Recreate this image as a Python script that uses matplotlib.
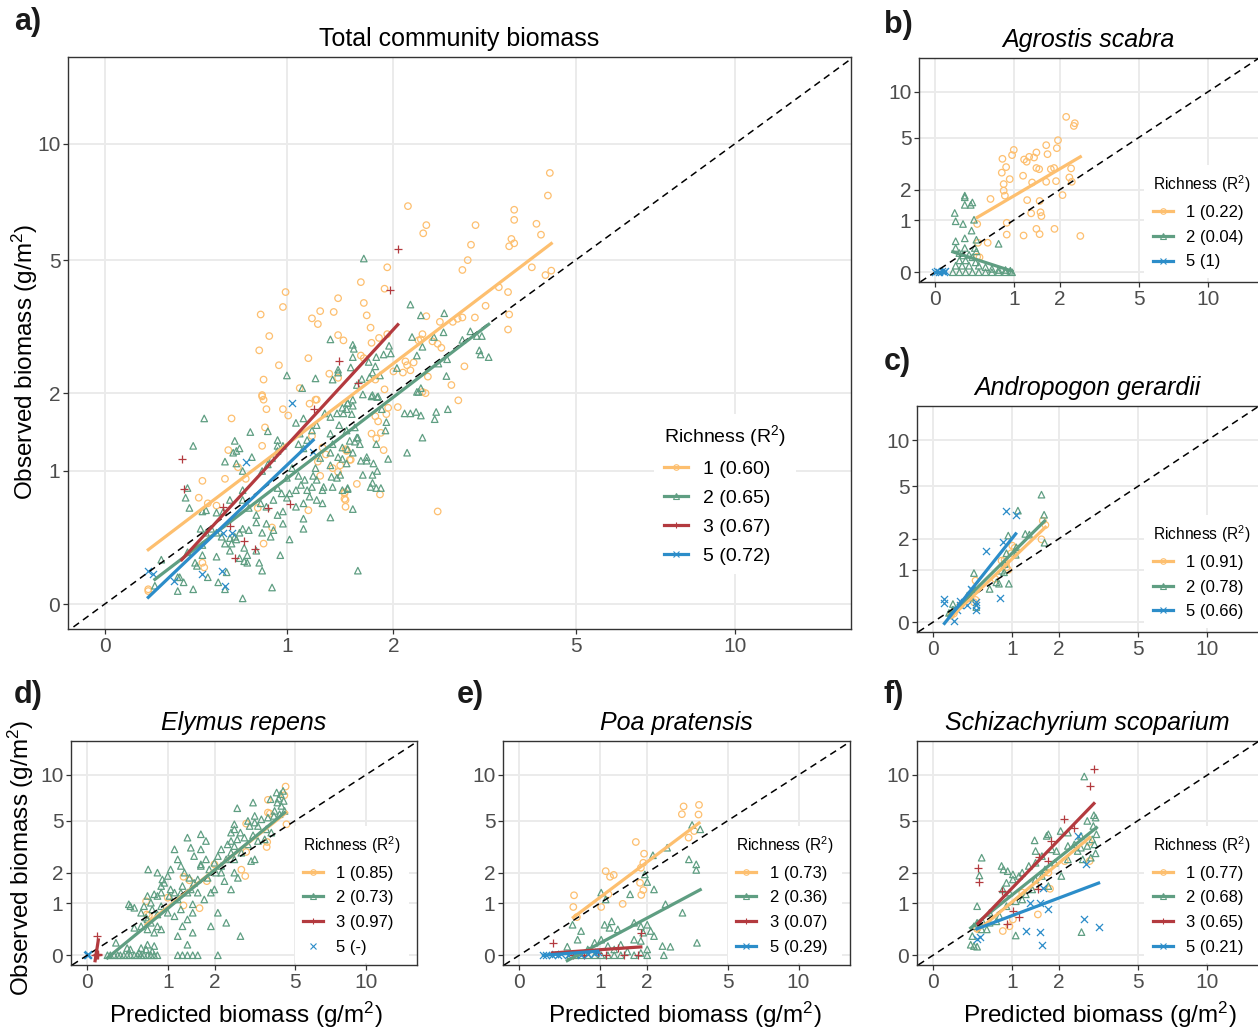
import numpy as np
import matplotlib.pyplot as plt
from matplotlib.lines import Line2D
from matplotlib.ticker import NullLocator

plt.rcParams['font.family'] = ['Liberation Sans', 'DejaVu Sans']
plt.rcParams['mathtext.fontset'] = 'custom'
plt.rcParams['mathtext.rm'] = 'Liberation Sans'
plt.rcParams['mathtext.it'] = 'Liberation Sans:italic'
plt.rcParams['mathtext.default'] = 'regular'

# Richness levels: colour and symbol
colors = {1: '#FDBF6F', 2: '#5F9E82', 3: '#B33A3F', 5: '#2C8DC9'}
markers = {1: 'o', 2: '^', 3: '+', 5: 'x'}

ticks = [0, 1, 2, 5, 10]
tick_labels = ['0', '1', '2', '5', '10']

# ---- a) Total community biomass  (predicted, observed) in g/m2 ----
total_r1 = [(4.44, 8.45), (4.40, 7.40), (2.17, 6.95), (2.40, 6.20), (2.36, 5.90), (3.10, 6.20), (3.75, 6.80),
            (3.75, 6.40), (4.17, 6.25), (4.26, 5.85), (3.70, 5.70), (3.75, 5.55), (3.66, 5.45), (3.03, 5.50),
            (2.98, 5.00), (2.90, 4.70), (4.08, 4.78), (4.35, 4.55), (4.47, 4.68), (1.93, 4.78), (1.65, 4.35),
            (1.90, 4.17), (0.99, 4.08), (0.97, 3.70), (1.43, 3.92), (1.68, 3.80), (1.39, 3.58), (1.27, 3.60),
            (1.20, 3.43), (1.25, 3.30), (1.71, 3.50), (0.81, 3.52), (0.87, 3.04), (0.80, 2.75), (0.94, 2.47),
            (0.83, 2.22), (0.82, 1.97), (1.10, 2.08), (1.17, 2.60), (1.75, 3.22), (1.76, 2.90), (1.84, 3.00),
            (1.43, 3.06), (1.48, 2.95), (1.93, 3.08), (1.65, 2.65), (1.68, 2.60), (1.35, 2.32), (1.43, 2.25),
            (1.24, 1.90), (1.90, 2.06), (1.80, 2.22), (2.00, 2.36), (2.11, 2.34), (2.20, 2.38), (2.16, 2.47),
            (2.14, 2.54), (2.24, 2.52), (2.35, 3.08), (2.40, 3.48), (2.58, 3.35), (2.33, 2.97), (2.30, 2.95),
            (2.48, 2.93), (2.55, 2.88), (2.60, 2.80), (2.76, 3.35), (2.83, 3.42), (2.90, 3.45), (3.09, 3.45),
            (3.26, 3.73), (3.48, 4.21), (3.64, 4.08), (3.66, 3.52), (3.64, 3.18), (2.93, 2.45), (2.74, 2.13),
            (2.42, 2.27), (2.35, 2.02), (2.84, 1.89), (0.82, 1.95), (0.83, 1.90), (0.85, 1.76), (0.97, 1.76),
            (1.01, 1.67), (0.62, 1.63), (1.18, 1.84), (1.23, 1.90), (0.84, 1.51), (0.82, 1.28), (0.60, 1.23),
            (0.66, 1.04), (0.45, 0.90), (0.58, 0.92), (0.71, 0.92), (0.43, 0.74), (0.48, 0.69), (0.53, 0.67),
            (0.79, 0.65), (0.89, 0.49), (0.83, 0.37), (0.45, 0.24), (0.46, 0.21), (0.18, 0.08), (0.18, 0.07),
            (1.17, 0.63), (1.27, 0.95), (1.25, 1.10), (1.32, 1.18), (1.29, 1.26), (1.38, 1.03), (1.43, 0.99),
            (1.49, 0.79), (1.49, 0.73), (1.50, 0.66), (1.54, 1.12), (1.45, 1.06), (1.51, 1.23), (1.20, 1.40),
            (2.39, 2.00), (2.05, 1.79), (1.94, 1.78), (1.92, 1.69), (1.80, 1.66), (1.83, 1.59), (1.76, 1.43),
            (1.86, 1.44), (1.81, 1.37), (1.89, 1.23), (1.50, 1.24), (1.51, 1.22), (1.55, 1.12), (1.61, 0.87),
            (1.49, 0.78), (1.50, 0.72), (1.85, 0.77), (2.55, 0.62)]
total_r2 = [(0.46, 1.63), (0.40, 1.28), (0.64, 1.34), (0.74, 1.45), (0.86, 1.46), (0.93, 1.35), (0.93, 1.28),
            (0.63, 1.20), (0.65, 1.22), (0.67, 1.25), (0.58, 1.10), (0.65, 1.08), (0.69, 1.00), (0.75, 1.15),
            (0.82, 1.00), (0.86, 1.07), (0.89, 1.14), (0.93, 1.22), (0.97, 1.28), (1.07, 1.57), (1.13, 1.63),
            (1.10, 1.43), (1.16, 1.35), (1.09, 1.30), (1.13, 1.25), (1.20, 1.47), (1.24, 1.54), (1.31, 1.70),
            (1.36, 1.65), (1.42, 1.70), (1.47, 1.78), (1.52, 1.85), (1.57, 1.90), (1.44, 1.54), (1.51, 1.47),
            (1.36, 1.43), (1.38, 1.30), (1.47, 1.26), (1.54, 1.34), (1.61, 1.38), (1.36, 1.20), (1.27, 1.14),
            (1.23, 1.03), (1.21, 0.95), (1.14, 0.91), (1.09, 0.95), (1.04, 1.03), (1.00, 0.93), (1.07, 0.81),
            (1.11, 0.86), (1.16, 0.81), (1.20, 0.84), (1.00, 0.74), (0.96, 0.78), (0.93, 0.83), (0.90, 0.72),
            (0.85, 0.66), (0.78, 0.59), (0.81, 0.69), (0.73, 0.65), (0.69, 0.81), (0.69, 0.72), (0.61, 0.72),
            (0.57, 0.62), (0.53, 0.61), (0.47, 0.63), (0.45, 0.62), (0.38, 0.65), (0.36, 0.74), (0.37, 0.83),
            (1.13, 0.69), (1.07, 0.66), (0.97, 0.62), (0.93, 0.59), (0.78, 0.53), (0.85, 0.52), (0.90, 0.47),
            (0.97, 0.52), (0.88, 0.42), (0.82, 0.45), (0.73, 0.47), (0.69, 0.48), (0.67, 0.45), (0.64, 0.42),
            (0.61, 0.41), (0.56, 0.42), (0.53, 0.45), (0.50, 0.48), (0.47, 0.45), (0.44, 0.48), (0.58, 0.37),
            (0.62, 0.37), (0.65, 0.40), (0.61, 0.32), (0.70, 0.34), (0.72, 0.29), (0.67, 0.27), (0.70, 0.25),
            (0.72, 0.24), (0.80, 0.24), (0.82, 0.19), (0.78, 0.32), (0.95, 0.29), (1.02, 0.40), (1.13, 0.56),
            (1.13, 0.48), (0.53, 0.28), (0.45, 0.29), (0.41, 0.24), (0.42, 0.22), (0.48, 0.15), (0.40, 0.08),
            (0.32, 0.07), (0.35, 0.12), (0.33, 0.15), (0.32, 0.15), (0.24, 0.26), (0.21, 0.10), (0.37, 0.31),
            (0.45, 0.36), (0.54, 0.12), (0.59, 0.18), (0.58, 0.08), (0.69, 0.03), (0.89, 0.09), (1.02, 0.78),
            (1.36, 0.57), (1.37, 0.94), (1.42, 0.93), (1.52, 0.83), (1.47, 0.81), (1.38, 0.84), (1.30, 0.84),
            (1.29, 0.81), (1.29, 0.69), (1.24, 0.72), (1.18, 0.75), (1.24, 0.91), (1.36, 1.06), (1.43, 1.15),
            (1.51, 1.08), (1.57, 1.20), (1.64, 1.30), (1.62, 0.19), (2.28, 2.02), (2.13, 1.70), (2.20, 1.70),
            (2.27, 1.72), (2.33, 1.67), (2.53, 1.72), (2.51, 1.62), (2.69, 1.76), (2.35, 1.38), (2.16, 1.20),
            (1.94, 1.13), (1.81, 1.30), (1.91, 1.47), (1.92, 1.58), (1.87, 1.76), (1.57, 1.81), (1.51, 1.76),
            (1.48, 1.70), (1.56, 1.69), (1.59, 1.51), (1.62, 1.38), (1.59, 1.33), (1.52, 1.24), (1.47, 1.13),
            (1.65, 1.11), (1.71, 1.11), (1.71, 1.15), (1.78, 1.08), (1.82, 1.00), (1.77, 0.96), (1.67, 0.96),
            (1.75, 0.84), (1.77, 0.88), (1.81, 0.83), (1.86, 0.83), (1.52, 0.82), (1.57, 0.64), (1.45, 0.96),
            (1.52, 1.85), (1.67, 1.98), (1.77, 1.97), (1.83, 1.95), (1.68, 5.05), (2.20, 3.76), (2.33, 3.50),
            (2.64, 3.55), (2.63, 3.12), (2.50, 3.02), (2.22, 3.02), (2.35, 2.82), (3.02, 3.14), (3.12, 3.04),
            (3.20, 3.04), (3.16, 2.75), (3.18, 2.67), (3.31, 2.62), (2.90, 2.96), (2.68, 2.58), (2.56, 2.50),
            (2.67, 2.28), (2.28, 2.65), (2.04, 2.42), (1.95, 2.84), (1.97, 2.69), (1.89, 2.67), (1.81, 2.62),
            (1.73, 2.53), (1.80, 2.45), (1.77, 2.34), (1.85, 2.29), (1.74, 2.26), (1.66, 2.23), (1.57, 2.86),
            (1.58, 2.78), (1.57, 2.62), (1.55, 2.43), (1.43, 2.39), (1.43, 2.34), (1.38, 2.22), (1.36, 2.97),
            (1.23, 2.24), (1.00, 2.29), (1.12, 2.08), (1.61, 2.13), (1.76, 1.95), (1.82, 1.94), (2.33, 2.08),
            (2.30, 2.02)]
total_r3 = [(2.05, 5.35), (1.96, 4.14), (1.44, 2.55), (1.62, 2.17), (1.22, 1.76), (0.34, 1.13), (0.35, 0.82),
            (0.57, 0.66), (0.86, 0.65), (1.02, 0.68), (0.61, 0.50), (0.70, 0.39), (0.64, 0.27), (0.77, 0.33)]
total_r5 = [(1.04, 1.85), (0.71, 1.10), (0.18, 0.19), (0.20, 0.17), (0.30, 0.13), (0.45, 0.17), (0.56, 0.19),
            (0.58, 0.10), (0.57, 0.45), (0.62, 0.45), (1.21, 1.21)]
# fitted lines on the log(1 + x) scale: (intercept, slope)
total_fit = {1: (0.111, 1.040), 2: (-0.071, 1.046), 3: (-0.205, 1.489), 5: (-0.181, 1.305)}
total_r2_labels = {1: '1 (0.60)', 2: '2 (0.65)', 3: '3 (0.67)', 5: '5 (0.72)'}

# ---- b) Agrostis scabra ----
agrostis_r1 = [(2.17, 6.90), (2.39, 6.00), (2.42, 6.26), (1.95, 4.79), (1.92, 4.21), (1.66, 4.42), (1.69, 3.81),
               (1.44, 3.92), (1.29, 3.64), (1.39, 3.60), (1.24, 3.35), (1.19, 3.48), (1.00, 4.09), (0.97, 3.75),
               (0.81, 3.52), (0.87, 3.05), (0.80, 2.76), (1.17, 2.61), (1.35, 2.30), (1.44, 3.00), (1.50, 2.94),
               (1.77, 2.94), (1.85, 3.00), (1.66, 2.33), (1.90, 2.36), (2.31, 2.98), (2.26, 2.53), (2.33, 2.33),
               (0.93, 2.45), (0.83, 2.23), (0.83, 1.96), (0.85, 1.77), (0.63, 1.65), (1.25, 1.61), (1.51, 1.58),
               (2.07, 1.79), (1.33, 1.19), (1.53, 1.22), (1.55, 1.11), (0.88, 0.93), (0.45, 0.90), (0.88, 0.65),
               (1.18, 0.63), (1.44, 0.78), (1.51, 0.66), (1.86, 0.78), (2.59, 0.62), (0.59, 0.48), (0.46, 0.48),
               (0.45, 0.23), (0.48, 0.22)]
agrostis_r2 = [(0.30, 1.77), (0.30, 1.71), (0.39, 1.53), (0.30, 1.45), (0.37, 1.45), (0.19, 1.20), (0.20, 0.97),
               (0.28, 0.90), (0.41, 1.01), (0.38, 0.74), (0.44, 0.54), (0.20, 0.51), (0.30, 0.57), (0.20, 0.38),
               (0.30, 0.38), (0.75, 0.46), (0.42, 0.38), (0.44, 0.32), (0.24, 0.29), (0.28, 0.25), (0.35, 0.26),
               (0.39, 0.22), (0.24, 0.17), (0.31, 0.17), (0.43, 0.14), (0.20, 0.09), (0.27, 0.09), (0.35, 0.09),
               (0.47, 0.09), (0.56, 0.07), (0.65, 0.045), (0.75, 0.03), (0.86, 0.03), (0.94, 0.02), (0.17, 0.0),
               (0.24, 0.0), (0.31, 0.0), (0.39, 0.0), (0.47, 0.0), (0.56, 0.0), (0.65, 0.0), (0.75, 0.0),
               (0.86, 0.0), (0.97, 0.0)]
agrostis_r5 = [(0.0, 0.0), (0.02, 0.01), (0.04, 0.0), (0.06, 0.02), (0.08, 0.0), (0.09, 0.01)]
agrostis_fit = {1: (0.398, 0.890), 2: (0.349, -0.493), 5: (0.005, 0.0)}
agrostis_r2_labels = {1: '1 (0.22)', 2: '2 (0.04)', 5: '5 (1)'}

# ---- c) Andropogon gerardii ----
andropogon_r1 = [(1.61, 2.81), (1.67, 2.60), (1.58, 1.98), (1.00, 1.74), (1.04, 1.66), (0.98, 1.48), (0.87, 1.27),
                 (0.89, 1.15), (0.82, 1.25), (0.90, 1.06), (0.93, 0.99), (0.72, 0.77), (0.45, 0.73), (0.45, 0.34),
                 (0.43, 0.30), (0.27, 0.25), (0.17, 0.09), (0.20, 0.12)]
andropogon_r2 = [(1.58, 4.37), (1.64, 3.12), (1.10, 3.35), (1.24, 2.20), (1.32, 2.17), (1.65, 1.85), (0.93, 2.13),
                 (1.06, 1.43), (0.90, 1.48), (0.87, 1.15), (0.86, 0.93), (0.78, 0.66), (0.94, 0.66), (0.74, 0.69),
                 (0.43, 0.91), (0.64, 0.55), (0.39, 0.38), (0.46, 0.22), (0.19, 0.27), (0.19, 0.18), (0.15, 0.13),
                 (0.35, 0.42), (0.82, 0.97), (1.07, 1.68)]
andropogon_r5 = [(0.105, 0.36), (0.105, 0.28), (0.90, 3.35), (1.06, 3.12), (0.59, 1.54), (0.85, 1.87), (0.80, 0.38),
                 (0.46, 0.18), (0.45, 0.25), (0.20, 0.02), (0.27, 0.26), (0.35, 0.25), (0.39, 0.55), (0.27, 0.33),
                 (0.23, 0.17), (0.31, 0.30), (0.45, 0.30), (0.41, 0.53)]
andropogon_fit = {1: (-0.159, 1.436), 2: (-0.125, 1.496), 5: (-0.206, 1.896)}
andropogon_r2_labels = {1: '1 (0.91)', 2: '2 (0.78)', 5: '5 (0.66)'}

# ---- d) Elymus repens ----
elymus_r1 = [(4.52, 8.43), (4.46, 7.40), (4.56, 4.71), (3.74, 6.90), (3.74, 5.67), (3.82, 5.58), (2.93, 4.76),
             (3.71, 3.51), (3.69, 3.22), (2.93, 2.95), (2.77, 2.12), (2.90, 1.87), (1.80, 1.68), (1.63, 0.87),
             (1.29, 1.84), (1.41, 1.71), (1.29, 0.94), (0.66, 1.05), (0.67, 0.72), (0.70, 0.70), (1.00, 1.15),
             (1.99, 2.35)]
elymus_r2 = [(4.11, 7.71), (4.29, 7.52), (4.40, 7.90), (4.20, 7.04), (4.43, 6.79), (4.14, 6.62), (4.32, 6.29),
             (3.85, 6.97), (4.47, 5.82), (4.24, 5.53), (3.99, 5.38), (3.74, 5.24), (3.48, 5.10), (3.23, 4.84),
             (2.99, 4.97), (3.35, 4.58), (3.67, 4.34), (3.88, 4.11), (3.61, 3.67), (3.35, 3.57), (3.17, 3.93),
             (2.87, 3.78), (2.74, 4.11), (2.55, 4.34), (2.45, 4.11), (2.64, 3.67), (2.99, 3.37), (3.23, 2.58),
             (3.10, 2.50), (2.55, 3.27), (2.35, 3.37), (2.17, 3.09), (2.45, 2.91), (2.55, 2.58), (2.77, 2.91),
             (2.31, 2.58), (2.08, 2.74), (1.99, 2.42), (2.17, 2.28), (2.03, 2.00), (1.86, 2.13), (1.78, 2.58),
             (1.66, 2.35), (1.82, 1.80), (1.59, 1.74), (1.51, 1.62), (1.44, 1.40), (1.37, 1.30), (1.27, 1.51),
             (1.24, 1.30), (1.18, 1.10), (1.12, 1.30), (1.05, 1.40), (1.03, 1.20), (0.94, 1.62), (0.89, 1.51),
             (0.83, 1.20), (0.78, 1.25), (0.73, 1.01), (0.68, 1.20), (0.63, 0.92), (0.59, 0.76), (0.66, 0.65),
             (0.73, 0.54), (0.83, 0.47), (0.89, 0.41), (0.78, 0.35), (0.68, 0.41), (0.59, 0.47), (0.50, 0.44),
             (0.45, 0.92), (0.50, 0.88), (0.43, 0.97), (0.69, 2.13), (1.37, 3.78), (1.44, 3.18), (1.66, 4.00),
             (1.78, 3.57), (1.51, 2.74), (1.66, 3.09), (0.89, 0.92), (1.00, 0.76), (1.12, 0.68), (1.24, 0.84),
             (1.37, 0.61), (1.48, 0.76), (1.90, 0.47), (2.31, 0.54), (2.74, 0.29), (1.18, 0.29), (1.37, 0.15),
             (1.48, 0.35), (1.27, 0.47), (1.59, 1.30), (1.74, 1.10), (1.90, 1.30), (1.99, 1.40), (2.17, 2.00),
             (2.26, 1.68), (2.55, 2.00), (2.66, 1.80), (2.45, 1.40), (2.08, 0.76), (1.12, 3.09), (1.18, 2.58),
             (1.24, 2.28), (1.31, 2.00), (1.00, 1.87), (1.05, 2.13), (0.83, 2.00), (0.91, 1.74), (3.17, 6.62),
             (2.64, 6.07), (3.23, 5.38), (3.05, 4.58), (4.02, 5.82), (2.55, 4.71), (2.45, 3.57), (1.66, 2.28),
             (1.41, 1.80), (1.48, 0.97), (0.89, 1.30), (0.83, 0.72), (0.68, 0.61), (0.75, 0.84),
             (0.19, 0.0), (0.22, 0.0), (0.26, 0.0), (0.30, 0.0), (0.33, 0.0), (0.37, 0.0), (0.41, 0.0),
             (0.45, 0.0), (0.50, 0.0), (0.54, 0.0), (0.59, 0.0), (0.63, 0.0), (0.68, 0.0), (0.73, 0.0),
             (0.78, 0.0), (0.83, 0.0), (1.18, 0.0), (1.27, 0.0), (1.37, 0.0), (1.48, 0.0), (1.59, 0.0),
             (2.08, 0.0), (0.28, 0.18), (0.41, 0.10), (0.59, 0.10), (0.68, 0.15), (0.75, 0.05), (0.45, 0.08),
             (0.56, 0.03), (0.78, 0.13), (0.66, 0.08)]
elymus_r3 = [(0.07, 0.0), (0.08, 0.0), (0.09, 0.0), (0.10, 0.0), (0.085, 0.02), (0.09, 0.30), (0.095, 0.01)]
elymus_r5 = [(0.0, 0.0), (0.01, 0.0), (0.005, 0.01)]
elymus_fit = {1: (-0.217, 1.234), 2: (-0.256, 1.267), 3: (-0.75, 10.0)}
elymus_r2_labels = {1: '1 (0.85)', 2: '2 (0.73)', 3: '3 (0.97)', 5: '5 (-)'}

# ---- e) Poa pratensis ----
poa_r1 = [(3.10, 6.24), (3.68, 6.39), (3.04, 5.53), (3.66, 5.50), (3.28, 3.78), (3.49, 4.22), (1.72, 3.51),
          (1.10, 2.06), (1.25, 1.91), (1.18, 1.84), (1.92, 2.86), (1.90, 2.42), (1.84, 2.20), (1.82, 1.62),
          (1.90, 1.38), (1.85, 1.23), (1.43, 0.98), (1.02, 0.90), (1.15, 1.25), (0.59, 0.90), (0.60, 1.22),
          (0.64, 0.66)]
poa_r2 = [(3.73, 4.34), (3.41, 4.66), (3.57, 2.35), (3.29, 2.58), (3.57, 2.11), (2.56, 3.18), (2.15, 2.78),
          (1.94, 1.93), (2.00, 1.65), (2.18, 1.40), (1.59, 1.25), (1.02, 1.30), (1.10, 1.10), (2.51, 0.97),
          (3.06, 0.76), (1.08, 0.50), (1.17, 0.44), (1.21, 0.57), (1.33, 0.41), (1.68, 0.54), (1.84, 0.47),
          (2.00, 0.50), (2.18, 0.29), (2.42, 0.13), (2.66, 0.12), (3.60, 0.18), (0.58, 0.50), (0.70, 0.38),
          (0.51, 0.12), (0.65, 0.23), (1.90, 0.35), (2.09, 0.38), (1.84, 0.21), (1.68, 0.23), (1.39, 0.15),
          (0.91, 0.18), (1.02, 0.23), (1.14, 0.13), (0.80, 0.08), (1.26, 0.08), (1.53, 0.05), (1.84, 0.03),
          (2.00, 0.08), (2.46, 0.0), (0.55, 0.0), (0.61, 0.0), (0.70, 0.0), (0.80, 0.0), (0.91, 0.0),
          (1.02, 0.0), (1.14, 0.0), (1.26, 0.0), (1.39, 0.0), (1.68, 0.0), (2.00, 0.0)]
poa_r3 = [(0.33, 0.17), (1.84, 0.35), (0.58, 0.0), (0.75, 0.0), (0.96, 0.03), (1.10, 0.0), (1.46, 0.0),
          (1.76, 0.0), (1.33, 0.10)]
poa_r5 = [(0.23, 0.0), (0.26, 0.0), (0.32, 0.0), (0.36, 0.02), (0.39, 0.0), (0.43, 0.01), (0.52, 0.0),
          (0.61, 0.02), (0.70, 0.0), (0.80, 0.01), (0.91, 0.03), (0.96, 0.04)]
poa_fit = {1: (-0.037, 1.164), 2: (-0.412, 0.826), 3: (0.0, 0.106), 5: (-0.023, 0.113)}
poa_r2_labels = {1: '1 (0.73)', 2: '2 (0.36)', 3: '3 (0.07)', 5: '5 (0.29)'}

# ---- f) Schizachyrium scoparium ----
schiz_r1 = [(2.91, 3.51), (2.93, 2.50), (1.78, 1.42), (2.16, 2.50), (1.50, 0.72), (0.84, 0.38), (1.01, 0.61),
            (0.95, 0.47), (0.47, 0.42), (1.74, 2.00), (1.45, 1.51), (1.18, 1.30)]
schiz_r2 = [(2.75, 9.78), (3.08, 5.44), (3.14, 5.24), (3.06, 4.58), (2.85, 4.97), (3.17, 4.00), (3.10, 3.37),
            (3.14, 2.88), (2.97, 2.66), (2.70, 2.58), (2.64, 3.18), (2.44, 3.37), (2.25, 4.11), (2.05, 4.22),
            (1.74, 4.00), (1.70, 3.89), (1.43, 3.61), (1.45, 3.00), (1.82, 3.09), (1.94, 3.00), (1.59, 2.74),
            (1.45, 2.42), (1.31, 2.28), (1.66, 2.13), (1.18, 2.00), (1.12, 1.87), (1.01, 1.74), (0.90, 1.62),
            (0.84, 1.40), (0.95, 1.30), (0.82, 2.28), (0.85, 2.13), (0.92, 2.06), (1.01, 1.93), (0.53, 2.66),
            (0.50, 1.89), (0.47, 0.92), (0.47, 0.54), (0.43, 0.47), (0.41, 0.29), (0.43, 0.13), (0.47, 0.12),
            (0.39, 0.15), (0.53, 0.41), (0.60, 0.41), (0.64, 0.54), (0.74, 0.57), (0.79, 0.68), (0.90, 0.92),
            (1.06, 1.05), (1.25, 1.25), (1.38, 1.40), (1.74, 1.51), (2.07, 1.87), (2.25, 2.58), (2.54, 3.00),
            (2.64, 3.89), (2.66, 0.36), (1.06, 0.30), (2.85, 3.28), (3.02, 3.67), (2.25, 3.28), (1.90, 2.42),
            (1.59, 1.87), (1.45, 1.74), (1.18, 1.10), (0.64, 0.76), (0.54, 0.57)]
schiz_r3 = [(3.08, 10.9), (2.93, 8.52), (2.13, 5.16), (2.44, 4.46), (1.80, 3.57), (1.74, 2.50), (1.53, 2.71),
            (0.48, 2.20), (0.49, 1.65), (0.82, 1.35), (1.50, 1.40), (1.01, 0.80), (1.12, 0.66), (0.91, 0.52)]
schiz_r5 = [(2.54, 3.89), (2.82, 2.38), (2.75, 0.61), (3.25, 0.46), (1.61, 1.45), (1.74, 0.84), (1.55, 1.01),
            (1.34, 1.01), (1.25, 0.38), (1.54, 0.36), (1.59, 0.14), (0.51, 0.28), (0.47, 0.24)]
schiz_fit = {1: (-0.166, 1.266), 2: (-0.037, 1.214), 3: (-0.195, 1.574), 5: (0.131, 0.573)}
schiz_r2_labels = {1: '1 (0.77)', 2: '2 (0.68)', 3: '3 (0.65)', 5: '5 (0.21)'}


def fwd(v):
    return np.log1p(v)


def inv(u):
    return np.expm1(u)


xlims = (inv(-0.14), inv(2.84))
ylims = (inv(-0.13), inv(2.85))


def draw_panel(ax, groups, fits, labels, title, leg_xy, fs_leg, fs_title, hide_right=False):
    ax.set_xscale('function', functions=(fwd, inv))
    ax.set_yscale('function', functions=(fwd, inv))
    ax.set_xlim(xlims)
    ax.set_ylim(ylims)
    ax.set_xticks(ticks)
    ax.set_xticklabels(tick_labels)
    ax.set_yticks(ticks)
    ax.set_yticklabels(tick_labels)
    ax.xaxis.set_minor_locator(NullLocator())
    ax.yaxis.set_minor_locator(NullLocator())
    ax.grid(True, color='#EBEBEB', linewidth=1.4)
    ax.set_axisbelow(True)
    for s in ax.spines.values():
        s.set_color('#333333')
        s.set_linewidth(1.0)
    if hide_right:
        ax.spines['right'].set_visible(False)
    ax.tick_params(colors='#333333', labelcolor='#4D4D4D', labelsize=15, length=3.5, width=0.9, pad=2)

    # 1:1 reference line
    ref = inv(np.array([-0.3, 3.0]))
    ax.plot(ref, ref, color='black', linewidth=1.1, dashes=(4.5, 3.2), zorder=3)

    handles = []
    for k, pts in groups.items():
        x, y = np.array(pts).T
        if markers[k] in ('+', 'x'):
            ax.scatter(x, y, marker=markers[k], color=colors[k], s=26, linewidths=0.9, zorder=2)
        else:
            ax.scatter(x, y, marker=markers[k], facecolors='none', edgecolors=colors[k],
                       s=22, linewidths=0.9, zorder=2)
        if k in fits:
            a, b = fits[k]
            u = np.linspace(fwd(x.min()), fwd(x.max()), 40)
            ax.plot(inv(u), inv(a + b * u), color=colors[k], linewidth=2.3, zorder=4)
        handles.append(Line2D([], [], color=colors[k], linewidth=2.3 if k in fits else 0,
                              linestyle='-' if k in fits else 'none',
                              marker=markers[k], markersize=4, markerfacecolor='none',
                              markeredgecolor=colors[k], markeredgewidth=0.8))
    leg = ax.legend(handles, [labels[k] for k in groups], title='Richness (R$^2$)',
                    loc='center left', bbox_to_anchor=leg_xy, fontsize=fs_leg, title_fontsize=fs_title,
                    frameon=True, fancybox=False, framealpha=1, edgecolor='none', facecolor='white',
                    handlelength=1.2, handletextpad=0.8, labelspacing=0.58, borderpad=0.5,
                    borderaxespad=0, alignment='left')
    leg.set_zorder(6)
    italic = title != 'Total community biomass'
    ax.set_title(title, fontsize=18, style='italic' if italic else 'normal', pad=8)


W, H = 1258, 1028
fig = plt.figure(figsize=(W / 100, H / 100), dpi=100)


def add_axes(left, top, right, bottom):
    return fig.add_axes([left / W, 1 - bottom / H, (right - left) / W, (bottom - top) / H])


ax_a = add_axes(68, 57, 851, 629)
ax_b = add_axes(919, 58, 1258, 282)
ax_c = add_axes(917, 406, 1258, 632)
ax_d = add_axes(71, 741, 417, 965)
ax_e = add_axes(503, 741, 850, 965)
ax_f = add_axes(917, 741, 1258, 965)

draw_panel(ax_a, {1: total_r1, 2: total_r2, 3: total_r3, 5: total_r5}, total_fit, total_r2_labels,
           'Total community biomass', (0.749, 0.236), 14, 14)
draw_panel(ax_b, {1: agrostis_r1, 2: agrostis_r2, 5: agrostis_r5}, agrostis_fit, agrostis_r2_labels,
           'Agrostis scabra', (0.665, 0.27), 12, 11.2, hide_right=True)
draw_panel(ax_c, {1: andropogon_r1, 2: andropogon_r2, 5: andropogon_r5}, andropogon_fit, andropogon_r2_labels,
           'Andropogon gerardii', (0.667, 0.268), 12, 11.2, hide_right=True)
draw_panel(ax_d, {1: elymus_r1, 2: elymus_r2, 3: elymus_r3, 5: elymus_r5}, elymus_fit, elymus_r2_labels,
           'Elymus repens', (0.646, 0.315), 12, 11.2)
draw_panel(ax_e, {1: poa_r1, 2: poa_r2, 3: poa_r3, 5: poa_r5}, poa_fit, poa_r2_labels,
           'Poa pratensis', (0.648, 0.315), 12, 11.2)
draw_panel(ax_f, {1: schiz_r1, 2: schiz_r2, 3: schiz_r3, 5: schiz_r5}, schiz_fit, schiz_r2_labels,
           'Schizachyrium scoparium', (0.667, 0.315), 12, 11.2, hide_right=True)

ylab = 'Observed biomass (g/m$^2$)'
xlab = 'Predicted biomass (g/m$^2$)'
ax_a.set_ylabel(ylab, fontsize=17.5)
ax_a.yaxis.set_label_coords(-0.036, 0.467)
ax_d.set_ylabel(ylab, fontsize=17.5)
ax_d.yaxis.set_label_coords(-0.101, 0.478)
for ax, xc in ((ax_d, 0.506), (ax_e, 0.523), (ax_f, 0.535)):
    ax.set_xlabel(xlab, fontsize=17.5)
    ax.xaxis.set_label_coords(xc, -0.155)

for letter, px, py in [('a)', 14, 22), ('b)', 884, 25), ('c)', 884, 362),
                       ('d)', 14, 695), ('e)', 457, 695), ('f)', 884, 695)]:
    fig.text(px / W, 1 - py / H, letter, fontsize=22, fontweight='bold', color='#1A1A1A',
             ha='left', va='center')

fig.savefig('out.png', dpi=100, facecolor='white')
